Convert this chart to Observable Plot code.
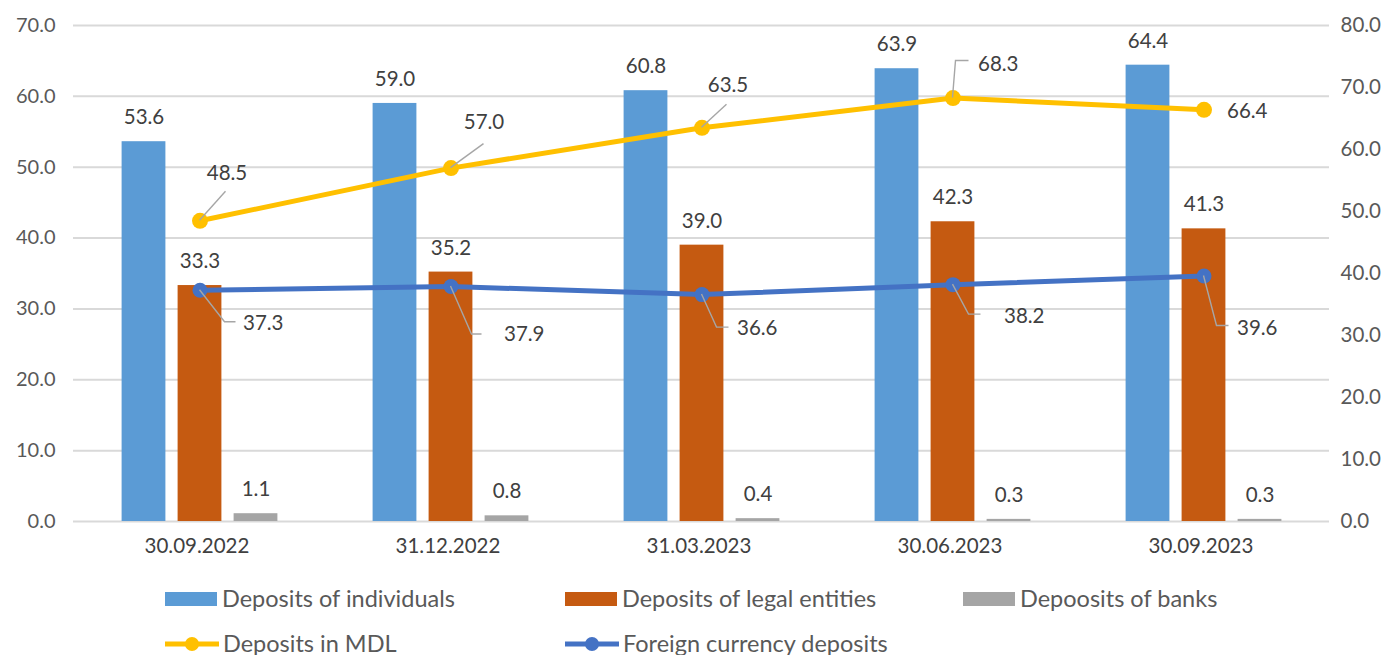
<!DOCTYPE html>
<html>
<head>
<meta charset="utf-8">
<script src="https://cdn.jsdelivr.net/npm/d3@7"></script>
<script src="https://cdn.jsdelivr.net/npm/@observablehq/plot@0.6"></script>
<style>
  body { margin: 0; background: #fff; font-family: Lato, "Open Sans", sans-serif; }
  #chart svg { display: block; }
  #legend { position: relative; width: 1394px; height: 83px; color: #595959; font-size: 23.5px; }
  #legend .item { position: absolute; display: flex; align-items: center; white-space: nowrap; line-height: 1; }
  #legend .sw { width: 52px; height: 14px; margin-right: 5px; }
  #legend svg { margin-right: 4px; }
</style>
</head>
<body>
<div id="chart"></div>
<div id="legend"></div>
<script>
// ---------- data ----------
const dates = ["30.09.2022", "31.12.2022", "31.03.2023", "30.06.2023", "30.09.2023"];
const individuals = [53.6, 59.0, 60.8, 63.9, 64.4];
const legalEntities = [33.3, 35.2, 39.0, 42.3, 41.3];
const banks = [1.1, 0.8, 0.4, 0.3, 0.3];
const depositsMDL = [48.5, 57.0, 63.5, 68.3, 66.4];        // right axis
const foreignCurrency = [37.3, 37.9, 36.6, 38.2, 39.6];    // right axis
const leftTicks = [0, 10, 20, 30, 40, 50, 60, 70];
const rightTicks = [0, 10, 20, 30, 40, 50, 60, 70, 80];
const seriesNames = ["Deposits of individuals", "Deposits of legal entities", "Depoosits of banks",
                     "Deposits in MDL", "Foreign currency deposits"];

// ---------- styles / layout ----------
const colors = ["#5B9BD5", "#C55A11", "#A5A5A5", "#FFC000", "#4472C4"];
const W = 1394, H = 572, mL = 73, mR = 65, mT = 25, mB = 51;
const leftMax = 70, rightMax = 80, k = leftMax / rightMax;
const bandW = (W - mL - mR) / dates.length;
const barW = 44, barStep = 56;
const inset = (bandW - barW) / 2;
const labelColor = "#404040";
const labelSize = 20.5;
const font = "Lato, 'Open Sans', sans-serif";

// label / leader placement for line labels (pixel offsets from point)
const mdlLabelPos = [
  {dx: 27, dy: -47, anchor: "middle"}, {dx: 33, dy: -46, anchor: "middle"},
  {dx: 26, dy: -42, anchor: "middle"}, {dx: 25, dy: -34, anchor: "start"},
  {dx: 23, dy: 2, anchor: "start"}
];
const mdlLeaders = [[[26, -29]], [[33, -24]], [[25, -23]], [[3, -37], [16, -37]], []];
const fxLabelPos = [
  {dx: 43, dy: 33}, {dx: 53, dy: 48}, {dx: 35, dy: 34}, {dx: 51, dy: 32}, {dx: 33, dy: 52}
];
const fxLeaders = [[[25, 32], [36, 32]], [[21, 48], [31, 48]], [[15, 33], [27, 33]],
                   [[16, 30], [28, 30]], [[13, 50], [25, 50]]];

const rows = (arr) => dates.map((d, i) => ({date: d, value: arr[i], i}));
const barSeries = [individuals, legalEntities, banks];
const fmt = (v) => v.toFixed(1);

const marks = [
  Plot.gridY(leftTicks, {stroke: "#d9d9d9", strokeOpacity: 1, strokeWidth: 2}),
  Plot.axisY(leftTicks, {anchor: "left", tickSize: 0, tickPadding: 18, tickFormat: fmt,
    fontSize: 20, fill: "#595959", label: null}),
  Plot.axisY(rightTicks.map(v => v * k), {anchor: "right", tickSize: 0, tickPadding: 11,
    tickFormat: (v) => fmt(v / k), fontSize: 20.5, fill: "#595959", label: null}),
  Plot.axisX({tickSize: 0, tickPadding: 17, fontSize: 20.5, dx: -3, fill: "#404040", label: null})
];

barSeries.forEach((arr, s) => {
  const dx = (s - 1) * barStep;
  marks.push(Plot.barY(rows(arr), {x: "date", y: "value", fill: colors[s], dx,
    insetLeft: inset, insetRight: inset}));
  marks.push(Plot.text(rows(arr), {x: "date", y: "value", text: (d) => fmt(d.value), dx, dy: -24,
    fontSize: labelSize, fill: labelColor}));
});

// lines on the secondary (right) axis
const lineSeries = [depositsMDL, foreignCurrency];
lineSeries.forEach((arr, s) => {
  const c = colors[3 + s];
  marks.push(Plot.line(rows(arr), {x: "date", y: (d) => d.value * k, stroke: c, strokeWidth: 5}));
  marks.push(Plot.dot(rows(arr), {x: "date", y: (d) => d.value * k, r: s === 0 ? 8 : 7.5, fill: c}));
});

// leader lines
const leaderMark = (index, scales) => {
  const sx = scales.x, sy = scales.y;
  const bw = sx.bandwidth ? sx.bandwidth() : 0;
  const g = d3.create("svg:g").attr("fill", "none").attr("stroke", "#a6a6a6").attr("stroke-width", 1.4);
  [[depositsMDL, mdlLeaders], [foreignCurrency, fxLeaders]].forEach(([arr, leaders]) => {
    dates.forEach((d, i) => {
      if (!leaders[i].length) return;
      const px = sx(d) + bw / 2, py = sy(arr[i] * k);
      const path = d3.path();
      path.moveTo(px, py);
      leaders[i].forEach(([ox, oy]) => path.lineTo(px + ox, py + oy));
      g.append("path").attr("d", path.toString());
    });
  });
  return g.node();
};
marks.push(leaderMark);

// line labels
rows(depositsMDL).forEach((r, i) => {
  const p = mdlLabelPos[i];
  marks.push(Plot.text([r], {x: "date", y: (d) => d.value * k, text: (d) => fmt(d.value),
    dx: p.dx, dy: p.dy, textAnchor: p.anchor, fontSize: labelSize, fill: labelColor}));
});
rows(foreignCurrency).forEach((r, i) => {
  const p = fxLabelPos[i];
  marks.push(Plot.text([r], {x: "date", y: (d) => d.value * k, text: (d) => fmt(d.value),
    dx: p.dx, dy: p.dy, textAnchor: "start", fontSize: labelSize, fill: labelColor}));
});

const chart = Plot.plot({
  width: W, height: H,
  marginLeft: mL, marginRight: mR, marginTop: mT, marginBottom: mB,
  style: {fontFamily: font, background: "#fff", overflow: "visible"},
  x: {type: "band", domain: dates, padding: 0, axis: null},
  y: {domain: [0, leftMax], axis: null},
  marks
});
document.getElementById("chart").appendChild(chart);

// ---------- legend ----------
const legend = document.getElementById("legend");
const legendPos = [[165, 15], [565, 15], [963, 15], [165, 60], [565, 60]];
seriesNames.forEach((name, s) => {
  const item = document.createElement("div");
  item.className = "item";
  item.style.left = legendPos[s][0] + "px";
  item.style.top = legendPos[s][1] + "px";
  if (s < 3) {
    const sw = document.createElement("span");
    sw.className = "sw";
    sw.style.background = colors[s];
    item.appendChild(sw);
  } else {
    const ns = "http://www.w3.org/2000/svg";
    const svg = document.createElementNS(ns, "svg");
    svg.setAttribute("width", 54); svg.setAttribute("height", 18);
    const ln = document.createElementNS(ns, "line");
    ln.setAttribute("x1", 0); ln.setAttribute("x2", 54); ln.setAttribute("y1", 9); ln.setAttribute("y2", 9);
    ln.setAttribute("stroke", colors[s]); ln.setAttribute("stroke-width", 5);
    const ci = document.createElementNS(ns, "circle");
    ci.setAttribute("cx", 27); ci.setAttribute("cy", 9); ci.setAttribute("r", 7); ci.setAttribute("fill", colors[s]);
    svg.appendChild(ln); svg.appendChild(ci);
    item.appendChild(svg);
  }
  const t = document.createElement("span");
  t.textContent = name;
  item.appendChild(t);
  legend.appendChild(item);
});
</script>
</body>
</html>
